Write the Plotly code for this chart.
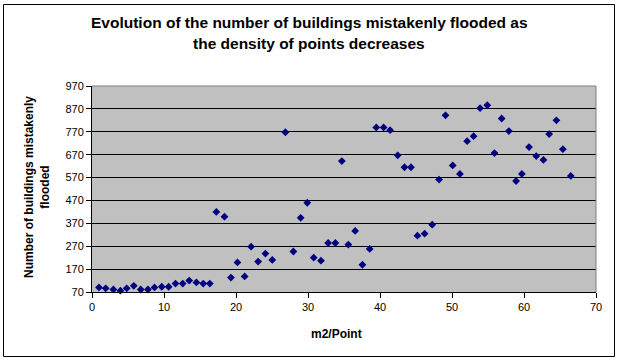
import plotly.graph_objects as go

m2_per_point = [0.97, 1.9, 2.97, 3.94, 4.82, 5.8, 6.77, 7.77, 8.68, 9.69, 10.65, 11.6, 12.6, 13.5,
                14.5, 15.45, 16.36, 17.27, 18.4, 19.3, 20.2, 21.2, 22.1, 23.07, 24.08, 25.04,
                26.86, 27.97, 28.98, 29.9, 30.8, 31.8, 32.8, 33.8, 34.7, 35.6, 36.55, 37.56,
                38.57, 39.48, 40.5, 41.4, 42.46, 43.4, 44.3, 45.2, 46.2, 47.25, 48.2, 49.1,
                50.1, 51.1, 52.1, 53.0, 53.9, 54.9, 55.9, 56.9, 57.9, 58.9, 59.7, 60.7, 61.7,
                62.7, 63.5, 64.5, 65.4, 66.5]
buildings_flooded = [90, 86, 81, 76, 86, 97, 81, 81, 90, 93, 93, 107, 107, 120,
                     112, 107, 107, 420, 399, 133, 199, 138, 268, 203, 238, 210,
                     768, 247, 394, 460, 220, 207, 284, 284, 642, 277, 337, 189,
                     258, 789, 789, 777, 667, 615, 615, 316, 325, 364, 561, 842,
                     623, 586, 729, 751, 873, 886, 677, 828, 773, 555, 586, 703, 664,
                     647, 760, 820, 694, 577]

y_ticks = [70, 170, 270, 370, 470, 570, 670, 770, 870, 970]
x_ticks = [0, 10, 20, 30, 40, 50, 60, 70]

FONT = "Liberation Sans, Arial, sans-serif"

fig = go.Figure()
fig.add_trace(go.Scatter(
    x=m2_per_point, y=buildings_flooded, mode="markers",
    marker=dict(symbol="diamond", size=6, color="#000080"),
    showlegend=False, cliponaxis=False,
))

L, R, T, B = 92, 24, 86, 69
W, H = 620, 361
pw, ph = W - L - R, H - T - B

def px(xp):
    return (xp - L) / pw

def py(yp):
    return (H - B - yp) / ph

fig.update_layout(
    width=W, height=H,
    margin=dict(l=L, r=R, t=T, b=B),
    paper_bgcolor="white", plot_bgcolor="#C0C0C0",
    font=dict(family=FONT, size=11, color="black"),
    xaxis=dict(range=[0, 70], tickvals=x_ticks, showgrid=False, zeroline=False,
               showline=True, linecolor="black", linewidth=1,
               ticks="outside", ticklen=5, tickcolor="black",
               tickfont=dict(size=11, family=FONT)),
    yaxis=dict(range=[70, 970], tickvals=y_ticks, showgrid=True, gridcolor="black",
               gridwidth=1, zeroline=False,
               showline=True, linecolor="black", linewidth=1,
               ticks="outside", ticklen=5, tickcolor="black",
               tickfont=dict(size=11, family=FONT)),
    shapes=[
        dict(type="line", xref="paper", yref="paper", x0=0, x1=1, y0=1, y1=1,
             line=dict(color="#808080", width=1), layer="above"),
        dict(type="line", xref="paper", yref="paper", x0=1, x1=1, y0=0, y1=1,
             line=dict(color="#808080", width=1), layer="above"),
        dict(type="rect", xref="paper", yref="paper",
             x0=px(3.5), x1=px(614.5), y0=py(356.5), y1=py(4.5),
             line=dict(color="black", width=1), layer="above"),
    ],
    annotations=[
        dict(text="<b>Evolution of the number of buildings mistakenly flooded as</b>",
             xref="paper", yref="paper", x=px(309), y=py(23), xanchor="center", yanchor="middle",
             showarrow=False, font=dict(size=15.5, family=FONT)),
        dict(text="<b>the density of points decreases</b>",
             xref="paper", yref="paper", x=px(309), y=py(43), xanchor="center", yanchor="middle",
             showarrow=False, font=dict(size=15.5, family=FONT)),
        dict(text="<b>Number of buildings mistakenly<br>flooded</b>",
             xref="paper", yref="paper", x=px(37), y=py(187), xanchor="center", yanchor="middle",
             textangle=-90, showarrow=False, font=dict(size=12, family=FONT), align="center"),
        dict(text="<b>m2/Point</b>",
             xref="paper", yref="paper", x=px(336), y=py(334), xanchor="center", yanchor="middle",
             showarrow=False, font=dict(size=12, family=FONT)),
    ],
)

fig.write_html("out.html", config={"displayModeBar": False},
               post_script="document.body.style.margin='0';document.body.style.overflow='hidden';")
